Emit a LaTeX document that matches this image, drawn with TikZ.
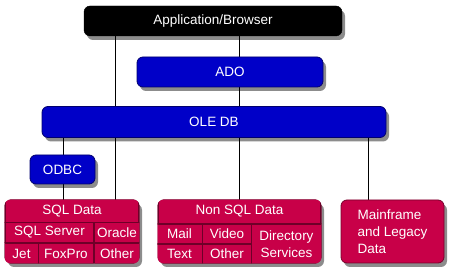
\documentclass[tikz,border=0pt]{standalone}
\usepackage{fontspec}
\setmainfont{Liberation Sans}
\usetikzlibrary{shadows,backgrounds}
\definecolor{adoblue}{RGB}{0,0,200}
\definecolor{datared}{RGB}{200,0,72}
\begin{document}
\begin{tikzpicture}[x=1pt, y=-1pt,
  box/.style={rounded corners=6pt, text=white, inner sep=0pt,
    font=\fontsize{13.5}{17}\selectfont,
    drop shadow={shadow xshift=3pt, shadow yshift=-4pt, opacity=0.45, fill=black}},
  topbox/.style={box, fill=black, draw=black},
  bluebox/.style={box, fill=adoblue, draw=adoblue!55!black, line width=0.8pt},
  redbox/.style={box, fill=datared, draw=datared!60!black, line width=0.8pt},
  cell/.style={rectangle, fill=datared, draw=datared!55!black, line width=1.2pt,
    text=white, inner sep=0pt, font=\fontsize{13.5}{17}\selectfont},
  link/.style={line width=1pt, black}]
  \useasboundingbox (0,0) rectangle (456,275);
  \coordinate (l1) at (63,0);
  \coordinate (l2) at (115,0);
  \coordinate (l3) at (239,0);
  \coordinate (l4) at (368,0);
  % upper layers
  \node[topbox, minimum width=258pt, minimum height=30pt] (app) at (213,21) {Application/Browser};
  \node[bluebox, minimum width=186pt, minimum height=30pt] (ado) at (230,72) {ADO};
  \node[bluebox, minimum width=344pt, minimum height=31pt] (oledb) at (214,122) {OLE DB};
  \node[bluebox, minimum width=65pt, minimum height=29pt] (odbc) at (62.5,169.5) {ODBC};
  % data stores
  \node[redbox, minimum width=134pt, minimum height=63pt] (sql) at (72,231.5) {};
  \node[redbox, minimum width=163pt, minimum height=63pt] (nonsql) at (239.5,231.5) {};
  \node[redbox, minimum width=103pt, minimum height=63pt, align=left] (mainframe) at (392.5,231.5)
    {Mainframe\\and Legacy\\Data};
  \begin{scope}
    \clip[rounded corners=6pt] (sql.north west) rectangle (sql.south east);
    \node[cell, minimum width=134pt, minimum height=23pt] (sqlhead) at (72,211) {SQL Data};
    \node[cell, minimum width=89pt, minimum height=20pt] (sqlserver) at (49.5,232.5) {SQL Server};
    \node[cell, minimum width=45pt, minimum height=20pt] (oracle) at (117,232.5) {Oracle};
    \node[cell, minimum width=34pt, minimum height=21pt] (jet) at (21.5,253.5) {Jet};
    \node[cell, minimum width=55pt, minimum height=21pt] (foxpro) at (66,253.5) {FoxPro};
    \node[cell, minimum width=45pt, minimum height=21pt] (sqlother) at (117,253.5) {Other};
  \end{scope}
  \begin{scope}
    \clip[rounded corners=6pt] (nonsql.north west) rectangle (nonsql.south east);
    \node[cell, minimum width=163pt, minimum height=24pt] (nonsqlhead) at (239.5,211.5) {Non SQL Data};
    \node[cell, minimum width=46pt, minimum height=20pt] (mail) at (179.5,234) {Mail};
    \node[cell, minimum width=49pt, minimum height=20pt] (video) at (227,234) {Video};
    \node[cell, minimum width=46pt, minimum height=20pt] (text) at (179.5,254) {Text};
    \node[cell, minimum width=49pt, minimum height=20pt] (nonsqlother) at (227,254) {Other};
    \node[cell, minimum width=70pt, minimum height=40pt, align=center] (directory) at (286.5,244)
      {Directory\\Services};
  \end{scope}
  % connectors
  \begin{pgfonlayer}{background}
    \draw[link] (app.south -| l2) -- (oledb.north -| l2);
    \draw[link] (app.south -| l3) -- (ado.north -| l3);
    \draw[link] (ado.south -| l3) -- (oledb.north -| l3);
    \draw[link] (oledb.south -| l1) -- (odbc.north -| l1);
    \draw[link] (odbc.south -| l1) -- (sql.north -| l1);
    \draw[link] (oledb.south -| l2) -- (sql.north -| l2);
    \draw[link] (oledb.south -| l3) -- (nonsql.north -| l3);
    \draw[link] (oledb.south -| l4) -- (mainframe.north -| l4);
  \end{pgfonlayer}
\end{tikzpicture}
\end{document}
